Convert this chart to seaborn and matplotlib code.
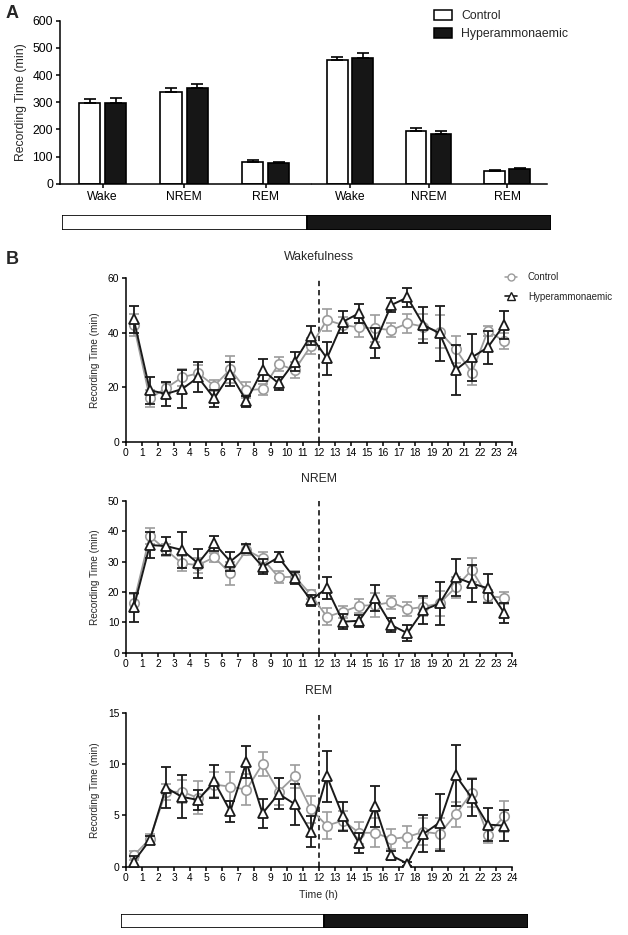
import matplotlib.pyplot as plt
from matplotlib.patches import Patch
from matplotlib.lines import Line2D
import pandas as pd
import seaborn as sns

sns.set_style("ticks")
plt.rcParams['font.family'] = ['Liberation Sans', 'DejaVu Sans']

W, H = 628, 935
GRAY = "#9c9c9c"
BLACK = "#1a1a1a"

# Panel A: recording time per stage, light / dark phase (mean, SEM)
stages = ["Wake", "NREM", "REM"]
groups = ["Control", "Hyperammonaemic"]
light_control = [298, 339, 81]
light_control_sem = [15, 12, 7]
light_hyper = [298, 351, 75]
light_hyper_sem = [17, 16, 4]
dark_control = [455, 195, 48]
dark_control_sem = [12, 10, 4]
dark_hyper = [463, 183, 54]
dark_hyper_sem = [17, 11, 5]

# light/dark bars
phases = ["light", "dark"]
phase_hours = [12, 12]

# Panel B: hourly time course
hours = [h + 0.5 for h in range(24)]
hour_ticks = list(range(25))

wake_control = [42.9, 16.0, 19.7, 23.7, 25.2, 20.6, 26.6, 19.0, 19.4, 28.5, 26.4, 35.2,
                44.7, 42.9, 42.0, 41.7, 41.0, 43.5, 42.3, 40.4, 34.0, 25.4, 40.7, 37.0]
wake_control_sem = [4, 3, 2, 3, 3, 2, 5, 3, 2, 2.5, 3, 3,
                    4, 3, 3.5, 5, 2.5, 3.5, 4.5, 6, 5, 4.5, 2, 3]
wake_hyper = [45.0, 19.0, 17.6, 19.4, 23.7, 16.0, 25.0, 15.0, 26.4, 21.5, 29.5, 39.0,
              30.7, 44.1, 47.2, 36.4, 50.2, 53.0, 42.9, 39.8, 26.4, 31.0, 34.7, 42.9]
wake_hyper_sem = [5, 5, 4.5, 7, 5.5, 3, 4.5, 2, 4, 2.5, 3.5, 3.5,
                  6, 4, 3.5, 5.5, 2.5, 3.5, 6.5, 10, 9, 8.5, 6, 5]

nrem_control = [16.4, 38.4, 33.8, 29.4, 28.8, 31.4, 26.1, 33.8, 31.0, 24.8, 25.0, 19.2,
                11.8, 13.5, 15.4, 15.7, 16.6, 14.3, 15.1, 16.2, 21.5, 27.2, 18.6, 18.1]
nrem_control_sem = [3, 2.5, 2, 2.5, 2.5, 1.5, 3.8, 1.5, 2, 2, 2, 1.5,
                    2.8, 2, 2.3, 4, 2.2, 2.3, 3, 4, 3.5, 3.8, 2, 2]
nrem_hyper = [14.9, 35.4, 35.1, 33.8, 29.4, 36.0, 30.0, 34.3, 28.3, 31.4, 24.5, 17.3,
              21.2, 10.2, 10.5, 17.9, 9.1, 6.4, 14.0, 16.2, 24.8, 22.8, 21.2, 13.2]
nrem_hyper_sem = [4.7, 4.4, 3, 6, 4.7, 2.5, 3.2, 1.5, 2.5, 1.7, 2, 1.8,
                  3.6, 2.5, 2, 4.3, 2.3, 2.6, 4.7, 7, 6, 6.2, 4.8, 3.3]

rem_control = [1.1, 2.7, 7.3, 7.3, 6.7, 8.0, 7.8, 7.5, 10.0, 7.3, 8.8, 5.6,
               4.0, 4.5, 3.3, 3.3, 2.7, 2.9, 3.4, 3.2, 5.1, 7.2, 3.1, 4.9]
rem_control_sem = [0.4, 0.5, 0.8, 1.1, 1.6, 1.2, 1.4, 1.5, 1.2, 1.3, 1.1, 1.3,
                   1.3, 0.9, 1.1, 1.4, 1.0, 1.1, 1.3, 1.5, 1.2, 1.4, 0.8, 1.5]
rem_hyper = [0.5, 2.6, 7.7, 6.8, 6.5, 8.3, 5.4, 10.2, 5.2, 7.1, 6.1, 3.4,
             8.8, 4.9, 2.3, 5.9, 1.1, 0.3, 3.2, 4.3, 8.9, 6.7, 4.1, 4.0]
rem_hyper_sem = [0.5, 0.4, 2, 2.1, 1, 1.6, 1, 1.6, 1.4, 1.5, 2, 1.5,
                 2.5, 1.4, 1, 2, 0.4, 0.2, 1.8, 2.8, 3, 1.8, 1.6, 1.5]


def rect(l, t, r, b):
    # pixel box -> figure fraction
    return [l / W, 1 - b / H, (r - l) / W, (b - t) / H]


def stage_bars(ax, ctrl, ctrl_sem, hyp, hyp_sem, xlim):
    df = pd.DataFrame({"stage": stages * 2,
                       "group": [groups[0]] * 3 + [groups[1]] * 3,
                       "value": ctrl + hyp})
    sns.barplot(data=df, x="stage", y="value", hue="group", hue_order=groups,
                palette={groups[0]: "white", groups[1]: "#161616"}, saturation=1,
                width=0.64, gap=0.18, edgecolor="black", linewidth=1.2,
                errorbar=None, legend=False, ax=ax)
    for cont, sem in zip(ax.containers, [ctrl_sem, hyp_sem]):
        for patch, e in zip(cont, sem):
            x = patch.get_x() + patch.get_width() / 2
            ax.errorbar(x, patch.get_height(), yerr=[[0], [e]], fmt='none',
                        ecolor="black", elinewidth=1.2, capsize=4, capthick=1.2)
    ax.set_xlim(xlim)
    ax.set_ylim(0, 600)
    ax.set_yticks(range(0, 601, 100))
    ax.set_xlabel("")
    ax.tick_params(axis='both', labelsize=8.7, length=3, width=1.1, pad=2, colors="black")
    for s in ax.spines.values():
        s.set_linewidth(1.1)
        s.set_color("black")
    sns.despine(ax=ax)


def phase_bar(box):
    ax = fig.add_axes(rect(*box))
    ax.barh([0, 0], phase_hours, left=[0, phase_hours[0]], height=1,
            color=["white", "#161616"], edgecolor="black", linewidth=1.2)
    ax.set_xlim(0, sum(phase_hours))
    ax.set_ylim(-0.5, 0.5)
    ax.axis("off")


def timecourse(ax, ctrl, ctrl_sem, hyp, hyp_sem, ymax, ystep, title):
    ax.axvline(12, color="black", ls=(0, (3.5, 2.5)), lw=1.1, zorder=1)
    ax.errorbar(hours, ctrl, yerr=ctrl_sem, fmt='none', ecolor=GRAY,
                elinewidth=1.2, capsize=3.5, capthick=1.2, zorder=2)
    sns.lineplot(x=hours, y=ctrl, color=GRAY, marker='o', markersize=6.8,
                 markerfacecolor="white", markeredgecolor=GRAY, markeredgewidth=1.2,
                 linewidth=1.3, ax=ax, zorder=3)
    ax.errorbar(hours, hyp, yerr=hyp_sem, fmt='none', ecolor=BLACK,
                elinewidth=1.3, capsize=3.5, capthick=1.3, zorder=4)
    sns.lineplot(x=hours, y=hyp, color=BLACK, marker='^', markersize=7.8,
                 markerfacecolor="white", markeredgecolor=BLACK, markeredgewidth=1.3,
                 linewidth=1.4, ax=ax, zorder=5)
    ax.set_xlim(0, 24)
    ax.set_ylim(0, ymax)
    ax.set_xticks(hour_ticks)
    ax.set_yticks(range(0, ymax + 1, ystep))
    ax.set_ylabel("Recording Time (min)", fontsize=7.2, labelpad=6)
    ax.set_title(title, fontsize=8.8, pad=13.5)
    ax.tick_params(axis='both', labelsize=7.4, length=3, width=1.1, pad=1.5, colors="black")
    for s in ax.spines.values():
        s.set_linewidth(1.1)
        s.set_color("black")
    sns.despine(ax=ax)


fig = plt.figure(figsize=(W / 100, H / 100), dpi=100)

# ---- Panel A
ax_light = fig.add_axes(rect(60, 20.7, 311, 183.7))
stage_bars(ax_light, light_control, light_control_sem, light_hyper, light_hyper_sem, (-0.524, 2.556))
ax_light.set_ylabel("Recording Time (min)", fontsize=8.8, labelpad=4)

ax_dark = fig.add_axes(rect(312, 20.7, 547.3, 183.7))
stage_bars(ax_dark, dark_control, dark_control_sem, dark_hyper, dark_hyper_sem, (-0.483, 2.51))
ax_dark.spines['left'].set_visible(False)
ax_dark.tick_params(axis='y', left=False, labelleft=False)
ax_dark.set_ylabel("")

fig.legend(handles=[Patch(facecolor="white", edgecolor="black", linewidth=1.1),
                    Patch(facecolor="#161616", edgecolor="black", linewidth=1.1)],
           labels=groups, loc="upper left", bbox_to_anchor=(434 / W, 1 - 10 / H),
           frameon=False, fontsize=8.8, handlelength=1.45, handleheight=0.85,
           labelspacing=0.5, handletextpad=0.75, borderaxespad=0, borderpad=0)

phase_bar((61.7, 215, 551.3, 230))

# ---- Panel B
ax_w = fig.add_axes(rect(125.7, 278.3, 512, 442))
timecourse(ax_w, wake_control, wake_control_sem, wake_hyper, wake_hyper_sem, 60, 20, "Wakefulness")
ax_n = fig.add_axes(rect(125.7, 500.7, 512, 652.7))
timecourse(ax_n, nrem_control, nrem_control_sem, nrem_hyper, nrem_hyper_sem, 50, 10, "NREM")
ax_r = fig.add_axes(rect(125.7, 712.7, 512, 866.7))
timecourse(ax_r, rem_control, rem_control_sem, rem_hyper, rem_hyper_sem, 15, 5, "REM")
ax_r.set_xlabel("Time (h)", fontsize=7.6, labelpad=5)

fig.legend(handles=[Line2D([], [], color=GRAY, marker='o', markersize=5, markerfacecolor="white",
                           markeredgecolor=GRAY, linewidth=1.1),
                    Line2D([], [], color=BLACK, marker='^', markersize=5.5, markerfacecolor="white",
                           markeredgecolor=BLACK, linewidth=1.2)],
           labels=groups, loc="upper left", bbox_to_anchor=(505 / W, 1 - 272 / H),
           frameon=False, fontsize=7, handlelength=1.25, labelspacing=1.0,
           handletextpad=1.1, borderaxespad=0, borderpad=0)

phase_bar((121, 914, 527.7, 928.3))

fig.text(12 / W, 1 - 14 / H, "A", fontsize=13, fontweight="bold", ha="center", va="center")
fig.text(12 / W, 1 - 259 / H, "B", fontsize=13, fontweight="bold", ha="center", va="center")

fig.savefig("out.png", dpi=100)
